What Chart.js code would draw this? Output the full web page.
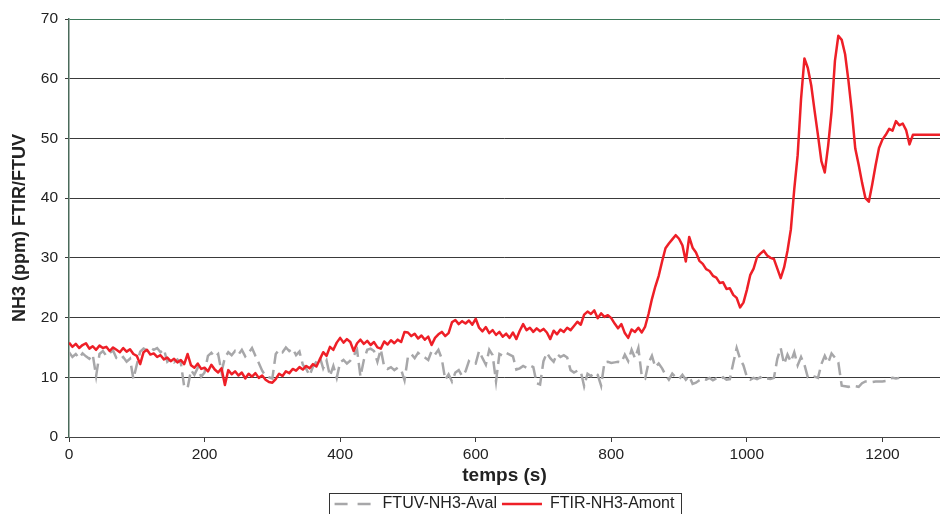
<!DOCTYPE html>
<html>
<head>
<meta charset="utf-8">
<script src="https://cdn.jsdelivr.net/npm/chart.js@4.4.1/dist/chart.umd.min.js"></script>
<style>
  html, body { margin: 0; padding: 0; background: #ffffff; }
  #wrap { width: 940px; height: 514px; position: relative; }
</style>
</head>
<body>
<div id="wrap"><canvas id="c" width="940" height="514"></canvas></div>
<script>
const SAMPLE_STEP_S = 5;
const seriesNames = ['FTUV-NH3-Aval', 'FTIR-NH3-Amont'];
const xTitle = 'temps (s)';
const yTitle = 'NH3 (ppm) FTIR/FTUV';
const xTickValues = [0, 200, 400, 600, 800, 1000, 1200];
const yTickValues = [0, 10, 20, 30, 40, 50, 60, 70];

// FTIR-NH3-Amont (red), t = 0 .. 1285 s
const ftirAmont = [
  15.8, 15.1, 15.6, 14.9, 15.4, 15.7, 14.8, 15.2, 14.6, 15.3, 14.9, 15.1, 14.4, 15.0, 14.6, 14.2, 14.9, 14.3, 14.7, 13.9,
  13.6, 12.2, 14.2, 14.6, 13.8, 14.0, 13.4, 13.7, 13.0, 13.3, 12.7, 13.1, 12.5, 12.9, 12.2, 13.9, 12.0, 11.6, 12.3, 11.4,
  11.6, 11.0, 12.1, 11.3, 10.8, 11.5, 8.7, 11.2, 10.5, 11.0, 10.3, 10.8, 9.8, 10.6, 10.1, 10.7, 9.9, 10.3, 9.6, 9.2,
  9.1, 9.7, 10.6, 10.2, 11.0, 10.7, 11.4, 11.1, 11.7, 11.3, 11.9, 11.5, 12.2, 11.8, 13.0, 14.2, 13.6, 15.1, 14.6, 15.8,
  16.6, 15.8, 16.4, 15.9, 14.4, 15.7, 16.3, 15.6, 16.1, 15.4, 15.9, 15.0, 14.8, 16.0, 15.5, 16.2, 15.7, 16.3, 15.9, 17.6,
  17.5, 16.9, 17.3, 16.5, 17.0, 16.3, 16.8, 15.4, 16.6, 17.2, 17.6, 16.9, 17.4, 19.2, 19.6, 18.9, 19.4, 19.0, 19.5, 18.8,
  19.8, 18.3, 17.7, 18.4, 17.4, 17.9, 17.1, 17.6, 16.8, 17.3, 16.6, 17.5, 16.4, 17.8, 18.9, 17.9, 18.3, 17.6, 18.2, 17.7,
  18.1, 17.5, 16.4, 17.8, 17.2, 18.0, 17.6, 18.3, 17.9, 18.6, 19.3, 18.8, 20.5, 21.0, 20.6, 21.2, 19.9, 20.7, 20.1, 20.4,
  19.9, 19.0, 18.2, 18.9, 17.4, 16.6, 18.0, 17.6, 18.3, 17.5, 18.5, 20.6, 23.1, 25.2, 27.0, 29.4, 31.6, 32.4, 33.1, 33.8,
  33.2, 32.1, 29.4, 33.5, 31.7, 30.9, 29.5, 29.0, 28.1, 27.8, 27.0, 26.7, 25.8, 25.9, 24.8, 24.9, 23.8, 23.3, 21.7, 22.5,
  24.6, 27.1, 28.2, 30.1, 30.7, 31.2, 30.4, 30.0, 29.8, 28.2, 26.6, 28.4, 31.2, 34.8, 41.5, 47.2, 56.6, 63.4, 61.8, 58.9,
  54.6, 50.5, 46.2, 44.3, 48.8, 54.5, 63.0, 67.2, 66.5, 64.1, 59.6, 54.4, 48.3, 45.6, 42.6, 40.0, 39.4, 42.3, 45.5, 48.4,
  49.8, 50.6, 51.6, 51.3, 52.9, 52.2, 52.5, 51.4, 49.0, 50.6, 50.6, 50.6, 50.6, 50.6, 50.6, 50.6, 50.6, 50.6
];

// FTUV-NH3-Aval (grey, dashed), t = 0 .. 1225 s
const ftuvAval = [
  14.2, 13.4, 13.9, 13.2, 14.0, 13.5, 13.1, 13.8, 10.2, 13.9, 14.4, 13.6, 14.1, 14.5, 13.2, 12.9, 13.4, 12.6, 13.1, 9.7,
  12.1, 14.3, 14.8, 14.5, 15.0, 14.6, 14.9, 14.2, 14.7, 12.6, 13.1, 12.5, 13.0, 12.4, 8.4, 8.2, 11.2, 10.4, 11.6, 10.1,
  10.8, 13.6, 14.1, 13.4, 13.9, 10.9, 13.3, 14.2, 13.7, 14.4, 13.8, 14.6, 13.5, 14.1, 14.9, 13.6, 12.4, 11.1, 10.2, 10.0,
  9.8, 13.9, 14.6, 14.2, 15.0, 14.4, 14.8, 13.7, 14.3, 12.1, 11.4, 10.3, 11.8, 12.6, 13.4, 11.5, 12.8, 10.2, 11.9, 9.9,
  12.5, 12.9, 12.3, 12.8, 13.6, 14.6, 10.1, 12.9, 14.6, 14.8, 14.4, 12.6, 14.7, 11.8, 11.4, 11.7, 11.2, 11.6, 11.3, 9.5,
  13.4, 13.9, 13.2, 14.1, 13.6, 13.3, 12.9, 14.4, 13.8, 14.6, 13.1, 9.6, 10.5, 9.3, 10.8, 11.2, 10.2, 11.0, 12.7, 12.2,
  12.3, 14.4, 13.2, 12.1, 14.6, 13.7, 9.3, 13.9, 13.6, 14.1, 13.8, 13.5, 11.3, 11.5, 11.9, 11.6, 12.0, 11.7, 9.0, 8.8,
  12.7, 14.1, 13.2, 12.6, 13.9, 13.4, 13.7, 13.3, 11.2, 10.8, 11.1, 11.0, 8.5, 10.6, 10.2, 10.8, 10.4, 8.6, 12.5, 12.6,
  12.4, 12.5, 12.6, 12.5, 13.8, 12.7, 14.6, 13.2, 14.9, 10.2, 9.8, 12.4, 13.6, 11.7, 12.3, 11.5, 10.4, 9.6, 10.6, 10.0,
  9.7, 10.4, 9.6, 10.2, 8.9, 9.1, 9.5, 9.8, 9.6, 9.9, 9.5, 9.8, 9.6, 10.0, 9.6, 9.7, 12.4, 14.9, 13.1, 12.0,
  10.1, 9.6, 9.9, 9.7, 10.0, 9.6, 9.8, 9.7, 9.9, 13.1, 14.9, 12.2, 13.8, 12.6, 14.2, 12.0, 13.4, 12.1, 10.0, 9.8,
  10.1, 9.9, 12.2, 13.6, 12.4, 14.0, 13.3, 12.5, 8.6, 8.5, 8.4, 8.6, 8.5, 8.4, 9.0, 9.3, 9.3, 9.2, 9.3, 9.3,
  9.3, 9.4, 9.8, 9.9, 9.8, 9.9
];

const X_MAX = 1285;

function toPoints(values) {
  return values.map((v, i) => ({ x: i * SAMPLE_STEP_S, y: v }));
}

const FONT = '"Liberation Sans", Arial, Helvetica, sans-serif';
const TEXT = '#222222';
const GRID = '#3a3a3a';

const legendFrame = {
  id: 'legendFrame',
  afterDraw(chart) {
    const lg = chart.legend;
    if (!lg || !lg.legendHitBoxes || !lg.legendHitBoxes.length) return;
    const hb = lg.legendHitBoxes;
    const first = hb[0], last = hb[hb.length - 1];
    const left = Math.round(first.left - 6) + 0.5;
    const right = Math.round(last.left + last.width + 7) + 0.5;
    const top = Math.round(first.top + first.height / 2 - 11) + 0.5;
    const ctx = chart.ctx;
    ctx.save();
    ctx.strokeStyle = '#333333';
    ctx.lineWidth = 1;
    ctx.setLineDash([]);
    ctx.strokeRect(left, top, right - left, 40);
    ctx.restore();
  }
};

new Chart(document.getElementById('c'), {
  type: 'line',
  data: {
    datasets: [
      {
        label: seriesNames[0],
        data: toPoints(ftuvAval),
        borderColor: '#a7a7a9',
        backgroundColor: '#a7a7a9',
        borderWidth: 2.5,
        borderDash: [13, 6],
        pointRadius: 0,
        tension: 0,
        order: 2
      },
      {
        label: seriesNames[1],
        data: toPoints(ftirAmont),
        borderColor: '#ee1f27',
        backgroundColor: '#ee1f27',
        borderWidth: 2.5,
        pointRadius: 0,
        tension: 0,
        borderJoinStyle: 'round',
        order: 1
      }
    ]
  },
  options: {
    responsive: false,
    animation: false,
    events: [],
    layout: { padding: { top: 19, right: 0, left: 0, bottom: -8 } },
    plugins: {
      tooltip: { enabled: false },
      legend: {
        position: 'bottom',
        fullSize: false,
        labels: {
          usePointStyle: true,
          pointStyle: 'line',
          pointStyleWidth: 40,
          padding: 5,
          color: TEXT,
          font: { family: FONT, size: 16 },
          sort: (a, b) => a.datasetIndex - b.datasetIndex,
          generateLabels(chart) {
            const items = Chart.defaults.plugins.legend.labels.generateLabels(chart);
            items.forEach(it => {
              const ds = chart.data.datasets[it.datasetIndex];
              it.lineDash = ds.borderDash ? [13, 10] : [];
              it.lineWidth = ds.borderWidth;
              it.strokeStyle = ds.borderColor;
              it.fillStyle = ds.borderColor;
            });
            return items;
          }
        }
      }
    },
    scales: {
      x: {
        type: 'linear',
        min: 0,
        max: X_MAX,
        afterFit(scale) { scale.height = 54; },
        afterBuildTicks(scale) { scale.ticks = xTickValues.map(v => ({ value: v })); },
        ticks: {
          includeBounds: false,
          stepSize: 200,
          color: TEXT,
          padding: 3,
          maxRotation: 0,
          font: { family: FONT, size: 15.5 },
          callback: (v) => String(v)
        },
        grid: {
          drawOnChartArea: false,
          drawTicks: true,
          tickLength: 5,
          tickColor: GRID,
          color: GRID
        },
        border: { display: true, color: '#444444', width: 1 },
        title: {
          display: true,
          text: xTitle,
          color: TEXT,
          font: { family: FONT, size: 19, weight: 'bold' },
          padding: { top: 0, bottom: 4 }
        }
      },
      y: {
        type: 'linear',
        min: 0,
        max: 70,
        afterFit(scale) { scale.width = 69; },
        afterBuildTicks(scale) { scale.ticks = yTickValues.map(v => ({ value: v })); },
        ticks: {
          stepSize: 10,
          color: TEXT,
          padding: 7,
          font: { family: FONT, size: 15.5 },
          callback: (v) => String(v)
        },
        grid: {
          color: (ctx) => (ctx.tick && ctx.tick.value === 70) ? '#3d7a5a' : GRID,
          tickColor: GRID,
          tickLength: 4,
          lineWidth: 1
        },
        border: { display: true, color: '#4a6a5a', width: 1.5 },
        title: {
          display: true,
          text: yTitle,
          color: TEXT,
          font: { family: FONT, size: 18, weight: 'bold' },
          padding: { top: 9, bottom: 0 }
        }
      }
    }
  },
  plugins: [legendFrame]
});
</script>
</body>
</html>
